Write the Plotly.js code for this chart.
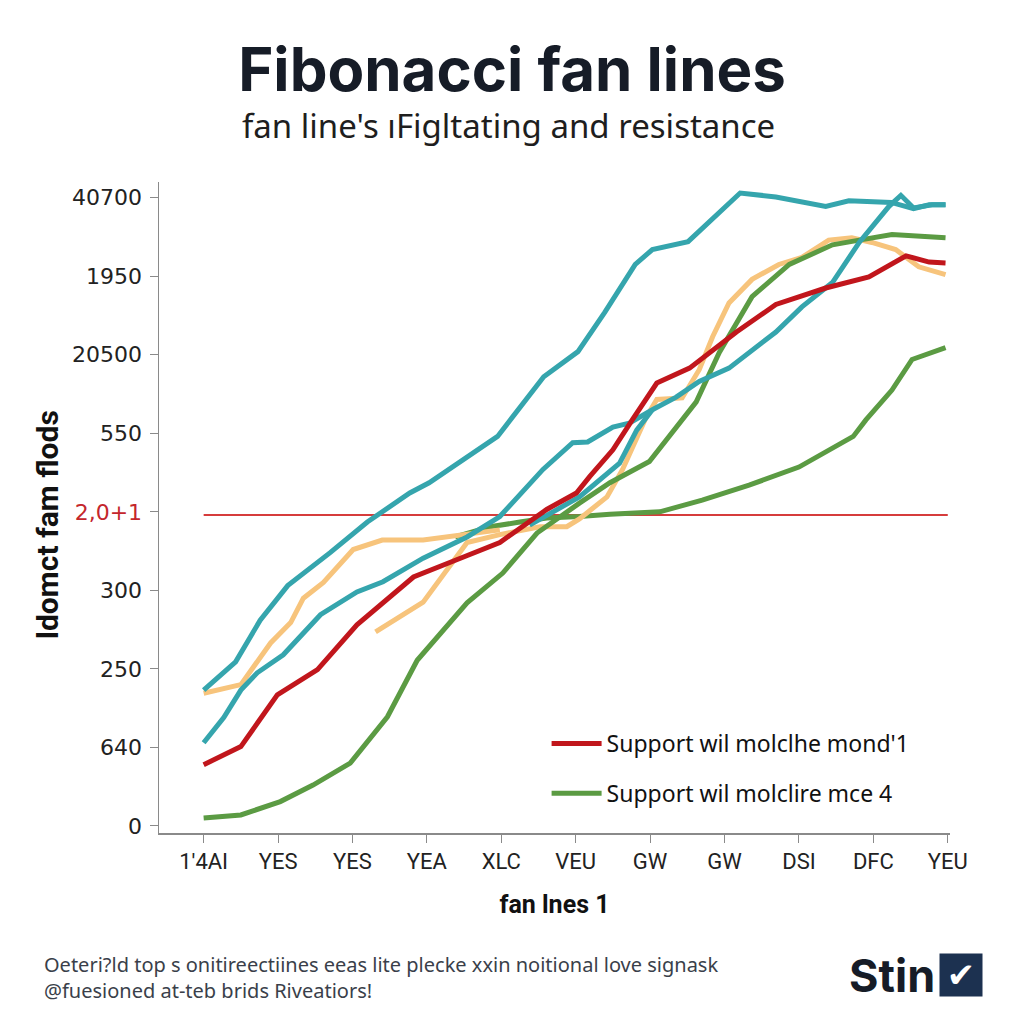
<!DOCTYPE html>
<html>
<head>
<meta charset="utf-8">
<script src="https://cdn.plot.ly/plotly-3.0.1.min.js"></script>
<style>
html, body { margin: 0; padding: 0; background: #fff; }
#chart { width: 1024px; height: 1024px; }
</style>
</head>
<body>
<div id="chart"></div>
<script>
// x is measured in tick steps: 0 = first category tick, 10 = last one
const xTickLabels = ["1'4AI", 'YES', 'YES', 'YEA', 'XLC', 'VEU', 'GW', 'GW', 'DSI', 'DFC', 'YEU'];
const yTickLabels = ['0', '640', '250', '300', '2,0+1', '550', '20500', '1950', '40700'];
const resistanceLevel = 3.96;

const tealUpperX = [0, 0.43, 0.76, 1.13, 1.70, 2.20, 2.77, 3.03, 3.95, 4.57, 5.03, 5.39, 5.80, 6.03, 6.51, 7.21, 7.69, 8.36, 8.67, 9.24, 9.54, 9.75, 9.97];
const tealUpperY = [1.73, 2.09, 2.62, 3.06, 3.48, 3.87, 4.24, 4.37, 4.96, 5.72, 6.04, 6.54, 7.15, 7.34, 7.44, 8.06, 8.01, 7.89, 7.96, 7.94, 7.86, 7.91, 7.91];

const tealLowerX = [0, 0.27, 0.50, 0.72, 1.07, 1.57, 2.06, 2.41, 2.95, 3.54, 3.98, 4.56, 4.96, 5.16, 5.50, 5.72, 6.03, 6.35, 6.66, 7.06, 7.69, 8.04, 8.45, 8.81, 9.21, 9.37, 9.54, 9.79, 9.97];
const tealLowerY = [1.06, 1.38, 1.73, 1.95, 2.18, 2.69, 2.98, 3.11, 3.41, 3.68, 3.94, 4.54, 4.88, 4.89, 5.08, 5.13, 5.30, 5.46, 5.66, 5.83, 6.29, 6.61, 6.92, 7.43, 7.89, 8.03, 7.87, 7.91, 7.91];

const tealBranchX = [4.38, 5.05, 5.59, 5.82, 6.03];
const tealBranchY = [3.83, 4.19, 4.62, 5.04, 5.30];

const redX = [0, 0.50, 0.99, 1.53, 2.06, 2.82, 3.40, 3.98, 4.61, 5.01, 5.19, 5.50, 5.76, 6.09, 6.53, 7.16, 7.69, 8.36, 8.94, 9.44, 9.75, 9.97];
const redY = [0.78, 1.01, 1.67, 1.99, 2.56, 3.17, 3.39, 3.61, 4.03, 4.24, 4.45, 4.79, 5.17, 5.64, 5.83, 6.29, 6.64, 6.85, 6.99, 7.26, 7.18, 7.17];

const amberEarlyX = [0, 0.50, 0.90, 1.17, 1.34, 1.61, 2.01, 2.40, 2.95, 3.54, 3.98];
const amberEarlyY = [1.69, 1.80, 2.33, 2.59, 2.90, 3.10, 3.52, 3.64, 3.64, 3.71, 3.77];

const amberX = [2.31, 2.95, 3.54, 3.98, 4.52, 4.88, 5.05, 5.42, 5.63, 5.82, 5.95, 6.09, 6.43, 6.66, 6.84, 7.06, 7.37, 7.73, 8.04, 8.40, 8.71, 8.98, 9.30, 9.61, 9.97];
const amberY = [2.47, 2.85, 3.61, 3.71, 3.81, 3.81, 3.91, 4.19, 4.54, 4.92, 5.21, 5.43, 5.45, 5.81, 6.23, 6.66, 6.96, 7.15, 7.24, 7.46, 7.49, 7.43, 7.34, 7.12, 7.02];

const greenSteepX = [0, 0.50, 1.03, 1.47, 1.97, 2.47, 2.87, 3.54, 4.02, 4.48, 5.05, 5.46, 5.99, 6.62, 6.93, 7.37, 7.87, 8.45, 8.81, 9.25, 9.97];
const greenSteepY = [0.10, 0.14, 0.31, 0.52, 0.80, 1.39, 2.11, 2.84, 3.22, 3.73, 4.11, 4.37, 4.64, 5.40, 6.03, 6.74, 7.15, 7.40, 7.46, 7.53, 7.49];

const greenFlatX = [3.38, 3.85, 4.25, 4.61, 5.05, 5.46, 6.13, 6.70, 7.33, 8.00, 8.73, 8.90, 9.25, 9.52, 9.97];
const greenFlatY = [3.68, 3.81, 3.87, 3.92, 3.94, 3.97, 4.00, 4.15, 4.34, 4.57, 4.96, 5.17, 5.55, 5.94, 6.09];

const legendNames = ["Support wil molclhe mond'1", 'Support wil molclire mce 4'];

const TEAL = '#35a5ad', RED = '#c1161c', AMBER = '#f7c47c', GREEN = '#5b9b43';

const line = (x, y, color, extra) => Object.assign({
    x: x, y: y,
    type: 'scatter',
    mode: 'lines',
    line: {color: color, width: 5, shape: 'linear'},
    showlegend: false,
    hoverinfo: 'skip'
}, extra || {});

const data = [
    line(greenFlatX, greenFlatY, GREEN, {showlegend: true, name: legendNames[1], legendgroup: 'b', legendrank: 2}),
    line(amberEarlyX, amberEarlyY, AMBER),
    line(amberX, amberY, AMBER),
    line(greenSteepX, greenSteepY, GREEN),
    line(tealUpperX, tealUpperY, TEAL),
    line(tealLowerX, tealLowerY, TEAL),
    line(tealBranchX, tealBranchY, TEAL),
    line(redX, redY, RED, {showlegend: true, name: legendNames[0], legendgroup: 'a', legendrank: 1})
];

const yTickColors = yTickLabels.map((t, i) => i === 4 ? '<span style="color:#c4262c">' + t + '</span>' : t);

// paper coordinates of the plot box: x from 159px to 950px, y from 833px up to 182px
const px = x => (x - 159) / 791;
const py = y => (833 - y) / 651;

const layout = {
    width: 1024,
    height: 1024,
    paper_bgcolor: '#ffffff',
    plot_bgcolor: '#ffffff',
    margin: {l: 159, r: 74, t: 182, b: 191},
    title: {
        text: '<b>Fibonacci fan lines</b>',
        font: {family: 'Inter, sans-serif', size: 60, color: '#161c27'},
        x: 0.5,
        xanchor: 'center',
        yref: 'container',
        y: 0.932,
        yanchor: 'middle'
    },
    xaxis: {
        range: [-0.6, 10.03],
        tickmode: 'array',
        tickvals: xTickLabels.map((t, i) => i),
        ticktext: xTickLabels,
        ticks: 'outside',
        ticklen: 8,
        tickcolor: '#8a8a8a',
        tickfont: {family: 'Roboto, sans-serif', size: 22, color: '#222'},
        showline: true,
        linecolor: '#8a8a8a',
        linewidth: 1.5,
        showgrid: false,
        zeroline: false,
        title: {
            text: '<b>fan lnes 1</b>',
            font: {family: 'Roboto, sans-serif', size: 25, color: '#111'},
            standoff: 22
        },
        fixedrange: true
    },
    yaxis: {
        range: [-0.09, 8.2],
        tickmode: 'array',
        tickvals: yTickLabels.map((t, i) => i),
        ticktext: yTickColors,
        ticks: 'outside',
        ticklen: 8,
        tickcolor: '#8a8a8a',
        ticklabelstandoff: 3,
        tickfont: {family: 'DejaVu Sans, sans-serif', size: 22, color: '#222'},
        showline: true,
        linecolor: '#8a8a8a',
        linewidth: 1.5,
        showgrid: false,
        zeroline: false,
        fixedrange: true
    },
    shapes: [{
        type: 'line',
        xref: 'x', yref: 'y',
        x0: 0, x1: 10,
        y0: resistanceLevel, y1: resistanceLevel,
        line: {color: '#d63c3c', width: 2},
        layer: 'below'
    }],
    legend: {
        x: 0.49,
        y: py(722),
        xanchor: 'left',
        yanchor: 'top',
        bgcolor: 'rgba(0,0,0,0)',
        font: {family: 'Noto Sans, sans-serif', size: 23, color: '#111'},
        traceorder: 'grouped',
        tracegroupgap: 17,
        itemwidth: 50
    },
    annotations: [
        {
            text: '<b>ldomct fam flods</b>',
            xref: 'paper', yref: 'paper',
            x: px(47), y: py(525),
            xanchor: 'center', yanchor: 'middle',
            textangle: -90,
            showarrow: false,
            font: {family: 'Roboto, sans-serif', size: 30, color: '#111'}
        },
        {
            text: "fan line's ıFigltating and resistance",
            xref: 'paper', yref: 'paper',
            x: px(508), y: py(125),
            xanchor: 'center', yanchor: 'middle',
            showarrow: false,
            font: {family: 'Noto Sans, sans-serif', size: 33, color: '#1e1e1e'}
        },
        {
            text: 'Oeteri?ld top s onitireectiines eeas lite plecke xxin noitional love signask<br>@fuesioned at-teb brids Riveatiors!',
            xref: 'paper', yref: 'paper',
            x: px(42), y: py(949),
            xanchor: 'left', yanchor: 'top',
            align: 'left',
            showarrow: false,
            font: {family: 'Noto Sans, sans-serif', size: 20, color: '#3a3f4a'}
        },
        {
            text: '<b>Stin</b>',
            xref: 'paper', yref: 'paper',
            x: px(847), y: py(975),
            xanchor: 'left', yanchor: 'middle',
            showarrow: false,
            font: {family: 'Inter, sans-serif', size: 45, color: '#161c27'}
        },
        {
            text: '✔',
            xref: 'paper', yref: 'paper',
            x: px(961), y: py(975),
            xanchor: 'center', yanchor: 'middle',
            showarrow: false,
            bgcolor: '#1c3150',
            borderpad: 1,
            width: 40,
            height: 40,
            font: {family: 'DejaVu Sans, sans-serif', size: 34, color: '#ffffff'}
        }
    ],
    hovermode: false
};

Plotly.newPlot('chart', data, layout, {displayModeBar: false, staticPlot: true});
</script>
</body>
</html>
